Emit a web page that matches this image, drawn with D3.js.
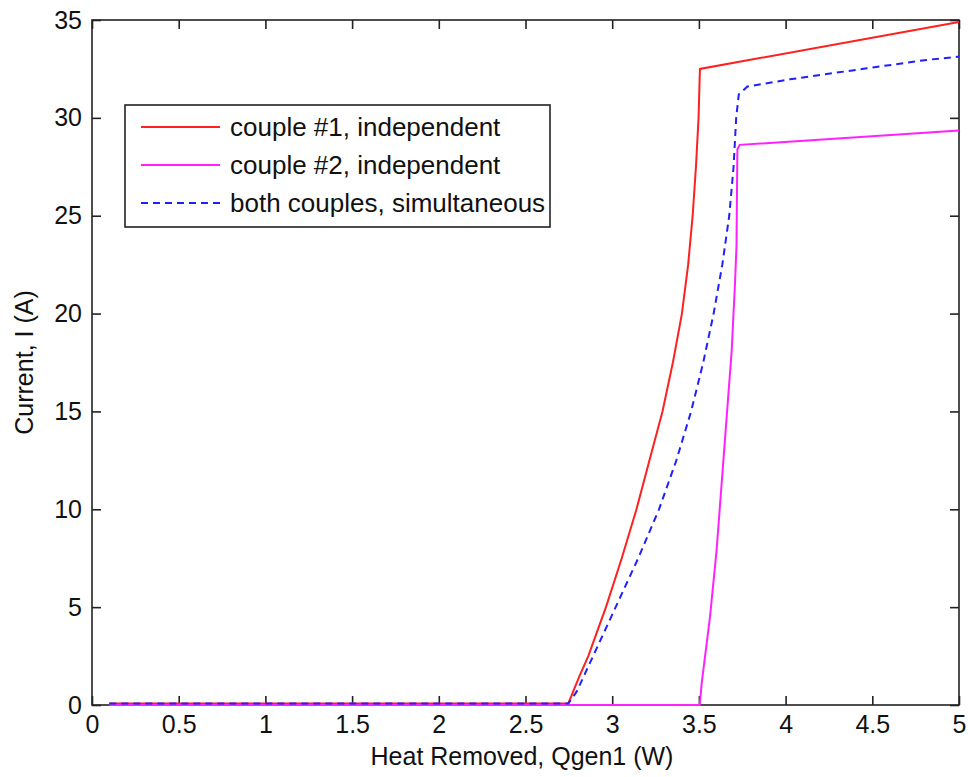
<!DOCTYPE html>
<html>
<head>
<meta charset="utf-8">
<script src="https://cdn.jsdelivr.net/npm/d3@7/dist/d3.min.js"></script>
<style>
  html, body { margin: 0; padding: 0; background: #fff; }
  svg { display: block; }
  text { font-family: "Liberation Sans", Arial, sans-serif; fill: #111; }
</style>
</head>
<body>
<svg id="chart" width="968" height="777"></svg>
<script>
// ---- data (Heat Removed Q in W, Current I in A) ----
const xTicks = [0, 0.5, 1, 1.5, 2, 2.5, 3, 3.5, 4, 4.5, 5];
const xTickLabels = ["0", "0.5", "1", "1.5", "2", "2.5", "3", "3.5", "4", "4.5", "5"];
const yTicks = [0, 5, 10, 15, 20, 25, 30, 35];
const yTickLabels = ["0", "5", "10", "15", "20", "25", "30", "35"];

const seriesNames = ["couple #1, independent", "couple #2, independent", "both couples, simultaneous"];

const couple1Q = [0.1, 2.747, 2.81, 2.862, 2.964, 3.055, 3.14, 3.215, 3.29, 3.35, 3.402, 3.438, 3.464, 3.483, 3.498, 3.506, 5.0];
const couple1I = [0.08, 0.08, 1.45, 2.5, 5, 7.5, 10, 12.5, 15, 17.5, 20, 22.5, 25, 27.5, 30, 32.5, 34.9];

const couple2Q = [0.1, 3.505, 3.516, 3.564, 3.602, 3.631, 3.66, 3.689, 3.708, 3.717, 3.72, 3.722, 3.735, 5.0];
const couple2I = [0, 0, 1.1, 4.5, 7.9, 11.3, 14.7, 18.1, 21.5, 23.5, 26.6, 28.4, 28.62, 29.35];

const bothQ = [0.1, 2.747, 2.795, 2.89, 3.02, 3.15, 3.27, 3.37, 3.455, 3.525, 3.585, 3.635, 3.675, 3.70, 3.715, 3.73, 3.78, 4.025, 4.468, 4.813, 5.0];
const bothI = [0.08, 0.08, 0.68, 2.5, 5, 7.5, 10, 12.5, 15, 17.5, 20, 22.5, 25, 27.5, 30, 31.2, 31.6, 31.97, 32.53, 32.96, 33.13];

// ---- layout ----
const svg = d3.select("#chart");
const L = 92, R = 959, T = 20, B = 705;
const x = d3.scaleLinear().domain([0, 5]).range([L, R]);
const y = d3.scaleLinear().domain([0, 35]).range([B, T]);
const axisColor = "#222";
const fontSize = 25;
const legendFontSize = 26;
const tickLen = 9;

// axes (ticks inward, box on)
const g = svg.append("g");
g.append("rect").attr("x", L).attr("y", T).attr("width", R - L).attr("height", B - T)
  .attr("fill", "none").attr("stroke", axisColor).attr("stroke-width", 1.6);

const axBottom = g.append("g").attr("transform", `translate(0,${B})`)
  .call(d3.axisBottom(x).tickValues(xTicks).tickFormat((d, i) => xTickLabels[i]).tickSizeInner(-tickLen).tickSizeOuter(0).tickPadding(28));
const axTop = g.append("g").attr("transform", `translate(0,${T})`)
  .call(d3.axisTop(x).tickValues(xTicks).tickFormat("").tickSizeInner(-tickLen).tickSizeOuter(0));
const axLeft = g.append("g").attr("transform", `translate(${L},0)`)
  .call(d3.axisLeft(y).tickValues(yTicks).tickFormat((d, i) => yTickLabels[i]).tickSizeInner(-tickLen).tickSizeOuter(0).tickPadding(10));
const axRight = g.append("g").attr("transform", `translate(${R},0)`)
  .call(d3.axisRight(y).tickValues(yTicks).tickFormat("").tickSizeInner(-tickLen).tickSizeOuter(0));

[axBottom, axTop, axLeft, axRight].forEach(a => {
  a.select(".domain").remove();
  a.selectAll(".tick line").attr("stroke", axisColor).attr("stroke-width", 1.6);
  a.selectAll(".tick text").attr("font-size", fontSize).attr("fill", "#111")
    .style("font-family", '"Liberation Sans", Arial, sans-serif');
});
axBottom.selectAll(".tick text").attr("y", 28).attr("dy", 0);

// axis labels
svg.append("text").attr("x", 522).attr("y", 765).attr("text-anchor", "middle")
  .attr("font-size", fontSize).text("Heat Removed, Qgen1 (W)");
svg.append("text").attr("transform", `translate(33,${(T + B) / 2}) rotate(-90)`)
  .attr("text-anchor", "middle").attr("font-size", fontSize).text("Current, I (A)");

// lines
const line = d3.line().x(d => x(d[0])).y(d => y(d[1]));
const series = [
  { q: couple1Q, i: couple1I, color: "#ff2020", dash: null },
  { q: couple2Q, i: couple2I, color: "#ff22ff", dash: null },
  { q: bothQ, i: bothI, color: "#2020ff", dash: "7,5" }
];
series.forEach(s => {
  svg.append("path").datum(s.q.map((v, k) => [v, s.i[k]]))
    .attr("d", line).attr("fill", "none").attr("stroke", s.color)
    .attr("stroke-width", 2).attr("stroke-dasharray", s.dash);
});

// legend
const lg = svg.append("g");
lg.append("rect").attr("x", 125).attr("y", 105).attr("width", 425).attr("height", 122)
  .attr("fill", "#fff").attr("stroke", axisColor).attr("stroke-width", 1.6);
series.forEach((s, k) => {
  const ly = 127 + k * 38;
  lg.append("line").attr("x1", 141).attr("x2", 220).attr("y1", ly).attr("y2", ly)
    .attr("stroke", s.color).attr("stroke-width", 2).attr("stroke-dasharray", s.dash);
  lg.append("text").attr("x", 230).attr("y", ly).attr("dy", "0.36em")
    .attr("font-size", legendFontSize).text(seriesNames[k]);
});
</script>
</body>
</html>
